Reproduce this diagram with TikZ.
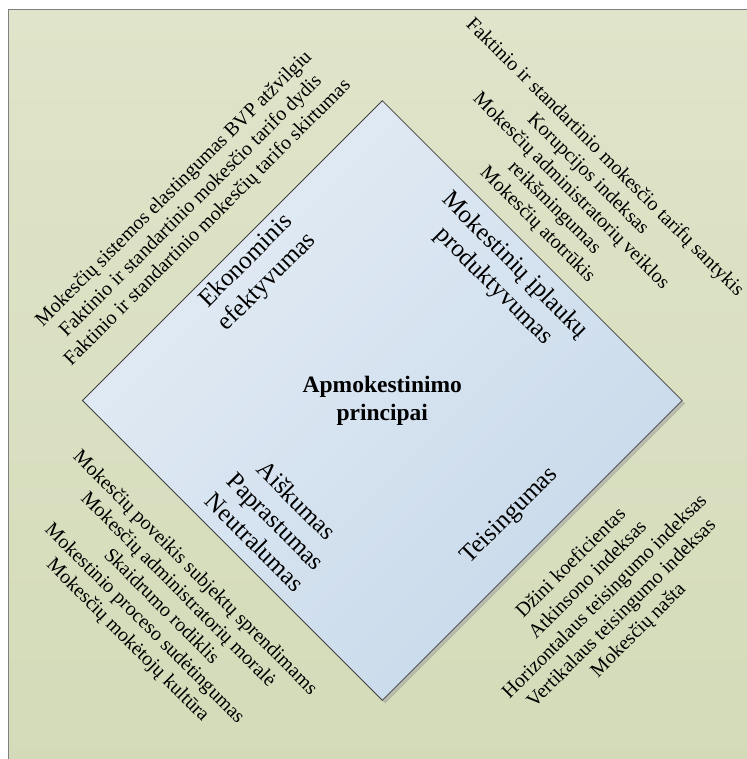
\documentclass[tikz,border=0pt]{standalone}
\usepackage{fontspec}
\setmainfont{Liberation Serif}
\usepackage{tikz}
\usetikzlibrary{positioning,shapes.geometric,shadows}

\definecolor{bgtop}{HTML}{E0E4CA}
\definecolor{bgbot}{HTML}{D3DBB8}
\definecolor{dialight}{HTML}{E4ECF5}
\definecolor{diadark}{HTML}{C7D9EA}

\begin{document}
\begin{tikzpicture}[x=1pt,y=-1pt,
    lst/.style={font=\fontsize{20}{23.8}\selectfont, align=center, inner sep=0pt},
    cat/.style={font=\fontsize{25}{29.5}\selectfont, align=center, inner sep=0pt},
    ttl/.style={font=\fontsize{23.5}{28}\selectfont\bfseries, align=center, inner sep=0pt}]
   \useasboundingbox (0,0) rectangle (746,759);
   % background panel
   \draw[draw=black!50, line width=1.5pt, top color=bgtop, bottom color=bgbot]
      (8.5,9.5) rectangle (780,790);

   \node[diamond, aspect=1, minimum width=600pt, minimum height=600pt, inner sep=0pt,
         draw=black!75, line width=0.8pt, top color=dialight, bottom color=diadark,
         shading angle=45,
         drop shadow={shadow xshift=3pt, shadow yshift=-3pt, fill=black!40, opacity=.5}]
      (dia) at (382.3,400.5) {};
   \node[ttl] (ttl) at (dia.center) {Apmokestinimo\\principai};

   \node[cat, rotate=45]  (ekon) at (257,272) {Ekonominis\\efektyvumas};
   \node[cat, rotate=-45] (prod) at (504,276) {Mokestinių įplaukų\\produktyvumas};
   \node[cat, rotate=-45] (aisk) at (276,521) {Aiškumas\\Paprastumas\\Neutralumas};
   \node[cat, rotate=45]  (teis) at (510,516) {Teisingumas};

   \node[lst, rotate=45]  (lstA) at (191,206)
      {Mokesčių sistemos elastingumas BVP atžvilgiu\\
       Faktinio ir standartinio mokesčio tarifo dydis\\
       Faktinio ir standartinio mokesčių tarifo skirtumas};
   \node[lst, rotate=-45] (lstB) at (571,191)
      {Faktinio ir standartinio mokesčio tarifų santykis\\
       Korupcijos indeksas\\
       Mokesčių administratorių veiklos\\
       reikšmingumas\\
       Mokesčių atotrūkis};
   \node[lst, rotate=-45] (lstC) at (161,607)
      {Mokesčių poveikis subjektų sprendimams\\
       Mokesčių administratorių moralė\\
       Skaidrumo rodiklis\\
       Mokestinio proceso sudėtingumas\\
       Mokesčių mokėtojų kultūra};
   \node[lst, rotate=45]  (lstD) at (605,597)
      {Džini koeficientas\\
       Atkinsono indeksas\\
       Horizontalaus teisingumo indeksas\\
       Vertikalaus teisingumo indeksas\\
       Mokesčių našta};
\end{tikzpicture}
\end{document}
